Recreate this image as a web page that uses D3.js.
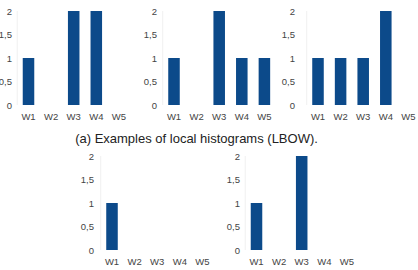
<!DOCTYPE html>
<html><head><meta charset="utf-8">
<script src="https://cdn.jsdelivr.net/npm/d3@7"></script>
<style>body{margin:0;background:#fff}svg{display:block}</style>
</head><body>
<script>
const categories = ["W1","W2","W3","W4","W5"];
const yTicks = [0, 0.5, 1, 1.5, 2];
const yTickLabels = ["0","0,5","1","1,5","2"];
const hist1 = [1, 0, 2, 2, 0];
const hist2 = [1, 0, 2, 1, 1];
const hist3 = [1, 1, 1, 2, 0];
const hist4 = [1, 0, 0, 0, 0];
const hist5 = [1, 0, 2, 0, 0];
const caption = "(a) Examples of local histograms (LBOW).";

const W = 418, H = 270;
const svg = d3.select("body").append("svg").attr("width", W).attr("height", H);

const panels = [
  {data: hist1, bandStart: 17.2, labelX: 12, yTop: 11, yBot: 105},
  {data: hist2, bandStart: 162.7, labelX: 157, yTop: 11, yBot: 105},
  {data: hist3, bandStart: 306.7, labelX: 295, yTop: 11, yBot: 105},
  {data: hist4, bandStart: 100.7, labelX: 94, yTop: 156, yBot: 250},
  {data: hist5, bandStart: 245.2, labelX: 240, yTop: 156, yBot: 250}
];
const step = 22.6;

panels.forEach(p => {
  const g = svg.append("g");
  const x = d3.scaleBand().domain(categories)
    .range([p.bandStart, p.bandStart + step * categories.length])
    .paddingInner(0.49).paddingOuter(0.245);
  const y = d3.scaleLinear().domain([0, 2]).range([p.yBot, p.yTop]);

  g.append("line").attr("x1", p.bandStart).attr("x2", p.bandStart)
    .attr("y1", p.yTop).attr("y2", p.yBot).attr("stroke", "#f0f0f0");

  g.selectAll("rect.bar").data(p.data).join("rect").attr("class","bar")
    .attr("x", (d,i) => x(categories[i]))
    .attr("width", x.bandwidth())
    .attr("y", d => y(d))
    .attr("height", d => y(0) - y(d))
    .attr("fill", "#0c4a8a");

  const yAxis = d3.axisLeft(y).tickValues(yTicks)
    .tickFormat((d,i) => yTickLabels[i]).tickSize(0).tickPadding(0);
  const ya = g.append("g").attr("transform", `translate(${p.labelX},0)`).call(yAxis);
  ya.select(".domain").remove();
  ya.selectAll("text").attr("font-family","Liberation Sans, Arial, sans-serif")
    .attr("font-size", 9.5).attr("fill", "#444");

  const xAxis = d3.axisBottom(x).tickSize(0).tickPadding(0);
  const xa = g.append("g").attr("transform", `translate(0,${p.yBot + 8})`).call(xAxis);
  xa.select(".domain").remove();
  xa.selectAll("text").attr("font-family","Liberation Sans, Arial, sans-serif")
    .attr("font-size", 9.5).attr("fill", "#444");
});

svg.append("text").attr("x", 196.5).attr("y", 142.5).attr("text-anchor","middle")
  .attr("font-family","Liberation Sans, Arial, sans-serif").attr("font-size", 13)
  .attr("fill", "#222").text(caption);
</script>
</body></html>
